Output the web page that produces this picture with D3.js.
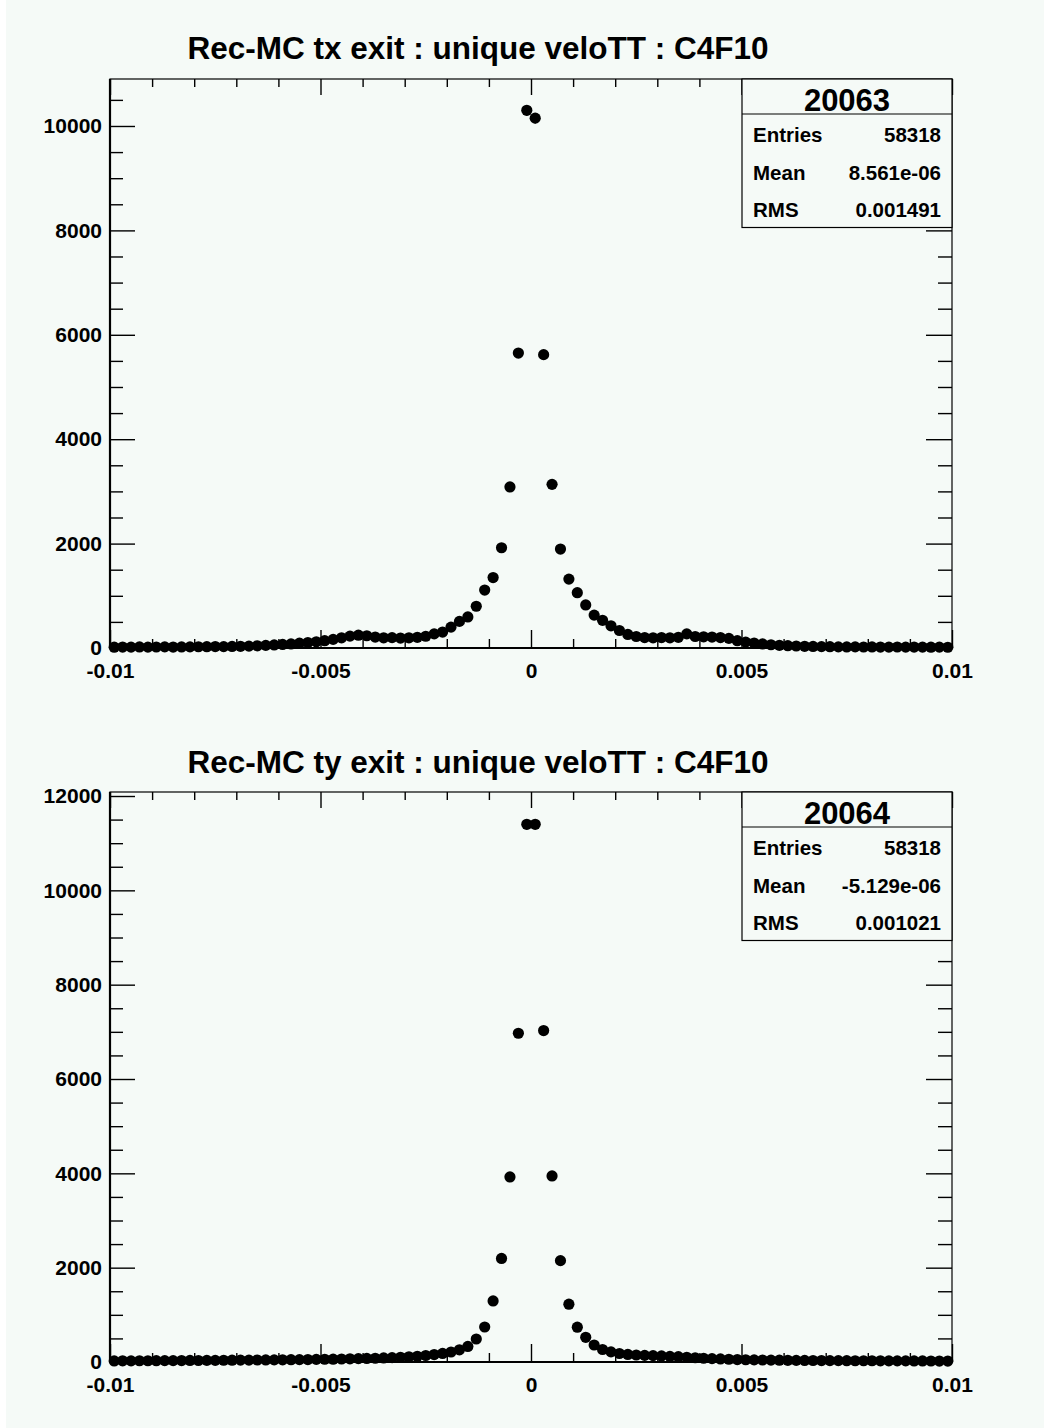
<!DOCTYPE html>
<html>
<head>
<meta charset="utf-8">
<script src="https://cdn.jsdelivr.net/npm/d3@7"></script>
<style>
  html, body { margin: 0; padding: 0; background: #ffffff; }
  svg { display: block; }
  text { font-family: "Liberation Sans", Arial, Helvetica, sans-serif; font-weight: bold; fill: #000; }
</style>
</head>
<body>
<svg id="chart" width="1044" height="1428"></svg>
<script>
// ---------------- DATA ----------------
const xRange = [-0.01, 0.01];
const nBins = 100;
const xTickLabels = [-0.01, -0.005, 0, 0.005, 0.01];

const txTitle = "Rec-MC tx exit : unique veloTT : C4F10";
const txValues = [
  15,18,16,20,17,19,22,18,20,21,24,
  25,28,26,30,33,36,
  42,50,58,68,
  78,92,105,120,140,165,195,
  228,245,235,210,195,198,190,195,205,225,
  270,305,400,510,595,800,1110,1350,1920,3085,5650,10300,10150,5620,3135,1895,1320,1060,825,630,530,425,335,
  260,220,200,195,200,195,205,270,220,215,210,200,185,140,112,95,78,62,52,
  44,38,33,30,27,25,22,20,21,19,20,18,17,19,16,18,17,15,16,14
];
const txYTicks = [0, 2000, 4000, 6000, 8000, 10000];
const txYMax = 10900;
const txStatsName = "20063";
const txStatsLabels = ["Entries", "Mean", "RMS"];
const txStatsValues = ["58318", "8.561e-06", "0.001491"];

const tyTitle = "Rec-MC ty exit : unique veloTT : C4F10";
const tyValues = [
  22,25,24,27,26,28,30,29,31,33,32,35,34,37,38,40,39,42,44,45,47,49,50,52,55,
  58,60,64,68,72,76,80,86,92,100,110,122,138,
  158,182,212,258,330,488,742,1294,2195,3924,6970,11400,11400,7027,3945,2149,1226,738,524,
  360,265,215,180,160,148,140,135,128,120,112,100,90,80,72,65,58,52,48,45,
  42,40,38,36,35,33,32,31,30,29,28,27,26,26,25,24,24,23,22,22,21,20,20
];
const tyYTicks = [0, 2000, 4000, 6000, 8000, 10000, 12000];
const tyYMax = 12085;
const tyStatsName = "20064";
const tyStatsLabels = ["Entries", "Mean", "RMS"];
const tyStatsValues = ["58318", "-5.129e-06", "0.001021"];

// ---------------- DRAW ----------------
const svg = d3.select("#chart");
const BG = "#f5faf7";
svg.append("rect").attr("x", 6).attr("y", 0).attr("width", 1038).attr("height", 1428).attr("fill", BG);

function drawHist(cfg) {
  const { left, right, top, bottom, values, yTicks, yMax, title, titleY, statsName, statsLabels, statsValues } = cfg;
  const g = svg.append("g");
  const x = d3.scaleLinear().domain(xRange).range([left, right]);
  const y = d3.scaleLinear().domain([0, yMax]).range([bottom, top]);
  const bw = (xRange[1] - xRange[0]) / nBins;
  const data = values.map((v, i) => ({ lo: xRange[0] + i * bw, hi: xRange[0] + (i + 1) * bw, c: xRange[0] + (i + 0.5) * bw, v }));

  const xMinor = d3.range(-10, 11).map(k => k * 0.001).filter(v => Math.abs(Math.round(v * 1000) % 5) !== 0);
  const yMinor = d3.range(0, yMax, 500).filter(v => v % 2000 !== 0);

  const bAx = g.append("g").attr("transform", `translate(0,${bottom})`)
    .call(d3.axisBottom(x).tickValues(xTickLabels).tickSizeInner(-18).tickSizeOuter(0).tickPadding(15)
      .tickFormat(d => d === 0 ? "0" : String(d)));
  bAx.select(".domain").remove();
  bAx.selectAll("text").style("font-size", "21px");
  const bMin = g.append("g").attr("transform", `translate(0,${bottom})`)
    .call(d3.axisBottom(x).tickValues(xMinor).tickSizeInner(-9).tickSizeOuter(0).tickFormat(""));
  bMin.select(".domain").remove();
  const tAx = g.append("g").attr("transform", `translate(0,${top})`)
    .call(d3.axisTop(x).tickValues(xTickLabels).tickSizeInner(-16).tickSizeOuter(0).tickFormat(""));
  tAx.select(".domain").remove();
  const tMin = g.append("g").attr("transform", `translate(0,${top})`)
    .call(d3.axisTop(x).tickValues(xMinor).tickSizeInner(-8).tickSizeOuter(0).tickFormat(""));
  tMin.select(".domain").remove();
  const lAx = g.append("g").attr("transform", `translate(${left},0)`)
    .call(d3.axisLeft(y).tickValues(yTicks).tickSizeInner(-25).tickSizeOuter(0).tickPadding(8).tickFormat(d3.format("d")));
  lAx.select(".domain").remove();
  lAx.selectAll("text").style("font-size", "21px");
  const lMin = g.append("g").attr("transform", `translate(${left},0)`)
    .call(d3.axisLeft(y).tickValues(yMinor).tickSizeInner(-13).tickSizeOuter(0).tickFormat(""));
  lMin.select(".domain").remove();
  const rAx = g.append("g").attr("transform", `translate(${right},0)`)
    .call(d3.axisRight(y).tickValues(yTicks).tickSizeInner(-26).tickSizeOuter(0).tickFormat(""));
  rAx.select(".domain").remove();
  const rMin = g.append("g").attr("transform", `translate(${right},0)`)
    .call(d3.axisRight(y).tickValues(yMinor).tickSizeInner(-14).tickSizeOuter(0).tickFormat(""));
  rMin.select(".domain").remove();
  g.selectAll(".tick line").attr("stroke", "#000").attr("stroke-width", 1.4);

  g.append("rect").attr("x", left).attr("y", top).attr("width", right - left).attr("height", bottom - top)
    .attr("fill", "none").attr("stroke", "#000").attr("stroke-width", 1.2);
  g.append("line").attr("x1", left).attr("x2", left).attr("y1", top).attr("y2", bottom).attr("stroke", "#000").attr("stroke-width", 2.2);
  g.append("line").attr("x1", left).attr("x2", right).attr("y1", bottom).attr("y2", bottom).attr("stroke", "#000").attr("stroke-width", 2.2);

  const pts = g.append("g");
  pts.selectAll("line.h").data(data).join("line").attr("class", "h")
    .attr("x1", d => x(d.lo)).attr("x2", d => x(d.hi)).attr("y1", d => y(d.v)).attr("y2", d => y(d.v))
    .attr("stroke", "#000").attr("stroke-width", 1.4);
  pts.selectAll("line.v").data(data).join("line").attr("class", "v")
    .attr("x1", d => x(d.c)).attr("x2", d => x(d.c))
    .attr("y1", d => y(d.v + Math.sqrt(d.v))).attr("y2", d => y(Math.max(0, d.v - Math.sqrt(d.v))))
    .attr("stroke", "#000").attr("stroke-width", 1.4);
  pts.selectAll("circle").data(data).join("circle")
    .attr("cx", d => x(d.c)).attr("cy", d => y(d.v)).attr("r", 5.6).attr("fill", "#000");

  svg.append("text").attr("x", 478).attr("y", titleY).attr("text-anchor", "middle")
    .style("font-size", "31.5px").text(title);

  const bx = 742, bxw = 210, hdrH = 35, rowH = 37.5;
  const st = svg.append("g").attr("transform", `translate(${bx},${top})`);
  st.append("rect").attr("width", bxw).attr("height", hdrH + rowH * 3 + 1).attr("fill", BG).attr("stroke", "#000").attr("stroke-width", 1.2);
  st.append("line").attr("x1", 0).attr("x2", bxw).attr("y1", hdrH).attr("y2", hdrH).attr("stroke", "#000").attr("stroke-width", 1.2);
  st.append("text").attr("x", bxw / 2).attr("y", 32).attr("text-anchor", "middle").style("font-size", "31px").text(statsName);
  st.selectAll("text.lab").data(statsLabels).join("text").attr("class", "lab")
    .attr("x", 11).attr("y", (d, i) => hdrH + 28 + i * rowH).style("font-size", "20.5px").text(d => d);
  st.selectAll("text.val").data(statsValues).join("text").attr("class", "val")
    .attr("x", bxw - 11).attr("y", (d, i) => hdrH + 28 + i * rowH).attr("text-anchor", "end").style("font-size", "20.5px").text(d => d);
}

drawHist({ left: 110, right: 952, top: 79, bottom: 648, values: txValues, yTicks: txYTicks, yMax: txYMax,
  title: txTitle, titleY: 59, statsName: txStatsName, statsLabels: txStatsLabels, statsValues: txStatsValues });
drawHist({ left: 110, right: 952, top: 792, bottom: 1362, values: tyValues, yTicks: tyYTicks, yMax: tyYMax,
  title: tyTitle, titleY: 773, statsName: tyStatsName, statsLabels: tyStatsLabels, statsValues: tyStatsValues });
</script>
</body>
</html>
